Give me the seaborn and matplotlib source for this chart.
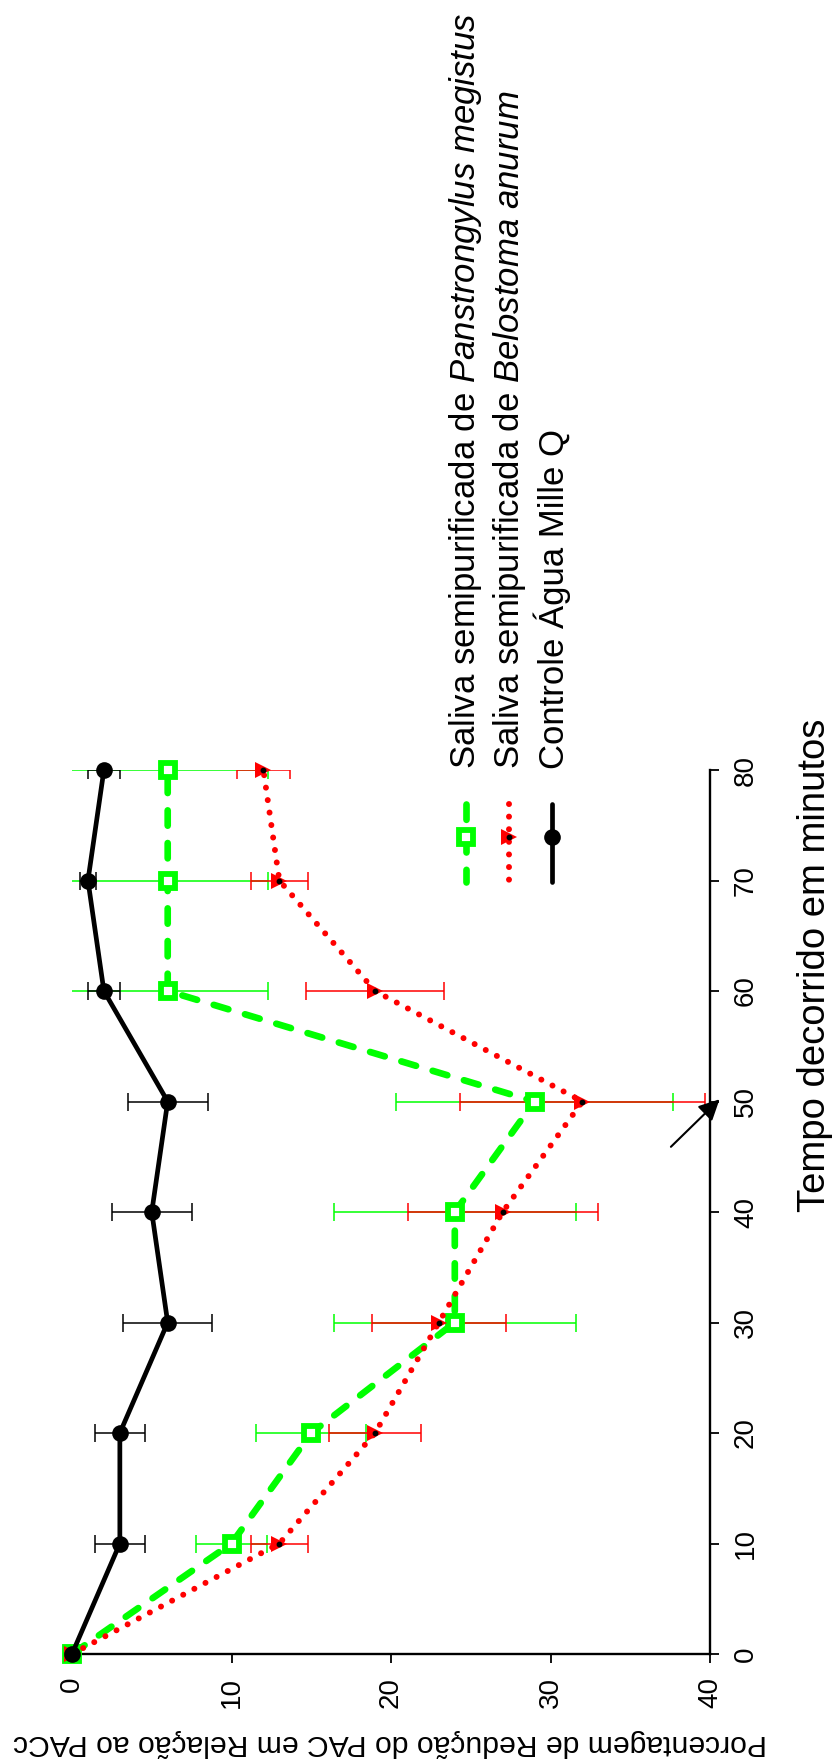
import seaborn as sns
from matplotlib import pyplot as plt
from matplotlib.lines import Line2D

#--------------------------Data----------------------
time_min = [0, 10, 20, 30, 40, 50, 60, 70, 80]

# Saliva semipurificada de Panstrongylus megistus
pm_mean = [0, 10, 15, 24, 24, 29, 6, 6, 6]
pm_err = [0, 2.2, 3.45, 7.6, 7.6, 8.7, 6.3, 6.3, 6.3]

# Saliva semipurificada de Belostoma anurum
ba_mean = [0, 13, 19, 23, 27, 32, 19, 13, 12]
ba_err = [0, 1.8, 2.9, 4.2, 5.95, 7.7, 4.35, 1.8, 1.65]

# Controle Agua Mille Q
ctrl_mean = [0, 3, 3, 6, 5, 6, 2, 1, 2]
ctrl_err = [0, 1.57, 1.57, 2.8, 2.5, 2.5, 1.0, 0.5, 1.0]

legend_labels = [r'Saliva semipurificada de $\mathit{Panstrongylus\ megistus}$',
                 r'Saliva semipurificada de $\mathit{Belostoma\ anurum}$',
                 'Controle Água Mille Q']
pct_ticks = [0, 10, 20, 30, 40]
time_ticks = [0, 10, 20, 30, 40, 50, 60, 70, 80]
pct_label = 'Porcentagem de Redução do PAC em Relação ao PACc'
time_label = 'Tempo decorrido em minutos'

# arrow pointing at the 50 min mark
arrow_tip = (40.6, 50.2)
arrow_tail = (37.55, 45.9)

#--------------------------Style----------------------------------------------
sns.set_style('ticks', {'axes.edgecolor': 'black', 'xtick.color': 'black',
                        'ytick.color': 'black', 'text.color': 'black',
                        'axes.labelcolor': 'black'})
plt.rcParams['font.family'] = ['Liberation Sans', 'DejaVu Sans']
plt.rcParams['mathtext.fontset'] = 'custom'
plt.rcParams['mathtext.rm'] = 'Liberation Sans'
plt.rcParams['mathtext.it'] = 'Liberation Sans:italic'

series = [
    (pm_mean, pm_err, dict(color='#00ff00', linestyle=(0, (2.3, 2.6)), lw=4.8,
                           dash_capstyle='round', marker='s', ms=9.5,
                           mfc='white', mec='#00ff00', mew=4.2)),
    (ba_mean, ba_err, dict(color='#ff0000', linestyle=(0, (0.01, 2.1)), lw=4.3,
                           dash_capstyle='round', marker='>', ms=12,
                           mfc='#ff0000', mec='#ff0000', mew=0)),
    (ctrl_mean, ctrl_err, dict(color='black', linestyle='-', lw=3.4,
                               marker='o', ms=12, mfc='black', mec='black', mew=0)),
]

#--------------------------Plot------------------------------------------------
fig = plt.figure(figsize=(8.34, 17.64), dpi=100)
ax = fig.add_axes([72 / 834, 110 / 1764, 638 / 834, 884 / 1764])

for mean, err, kw in series:
    ax.errorbar(mean, time_min, xerr=err, fmt='none', ecolor=kw['color'],
                elinewidth=1.1, capsize=6.8, capthick=1.1, zorder=2)
for mean, err, kw in series:
    sns.lineplot(x=mean, y=time_min, orient='y', sort=False, errorbar=None,
                 ax=ax, clip_on=False, zorder=3, **kw)
# small black dot in the middle of the red triangles
ax.plot(ba_mean, time_min, 'o', color='black', ms=3.2, ls='none',
        zorder=4, clip_on=False)

ax.annotate('', xy=arrow_tip, xytext=arrow_tail, annotation_clip=False,
            arrowprops=dict(arrowstyle='-|>,head_length=0.9,head_width=0.45',
                            color='black', lw=1.5, shrinkA=0, shrinkB=0,
                            mutation_scale=14), zorder=5)

ax.set_xlim(0, 40)
ax.set_ylim(0, 80)
ax.set_xticks(pct_ticks)
ax.set_yticks(time_ticks)
ax.yaxis.tick_right()
for side in ['left', 'top']:
    ax.spines[side].set_visible(False)
for side in ['right', 'bottom']:
    ax.spines[side].set_linewidth(1.7)
ax.tick_params(axis='both', direction='out', length=6.5, width=1.3,
               labelsize=20, pad=10)
ax.tick_params(axis='x', labelrotation=90)
ax.tick_params(axis='y', labelrotation=90)
for t in ax.get_yticklabels():
    t.set_va('center')
ax.set_xlabel('')
ax.set_ylabel('')

fig.text(390 / 834, 1 - 1743 / 1764, pct_label, rotation=180,
         ha='center', va='center', fontsize=21.7)
fig.text(815 / 834, 1 - 965 / 1764, time_label, rotation=90,
         ha='center', va='center', fontsize=27.5)

# manual rotated legend
leg_x = [466 / 834, 509 / 834, 552 / 834]
for (mean, err, kw), lab, lx in zip(series, legend_labels, leg_x):
    line_kw = {k: v for k, v in kw.items()
               if k not in ('marker', 'ms', 'mfc', 'mec', 'mew')}
    fig.add_artist(Line2D([lx, lx], [1 - 804 / 1764, 1 - 882 / 1764],
                          transform=fig.transFigure, **line_kw))
    fig.add_artist(Line2D([lx], [1 - 837 / 1764], transform=fig.transFigure,
                          ls='none', marker=kw['marker'], ms=kw['ms'],
                          mfc=kw['mfc'], mec=kw['mec'], mew=kw['mew']))
    fig.text(lx, 1 - 769 / 1764, lab, rotation=90, rotation_mode='anchor',
             ha='left', va='center', fontsize=25)
fig.add_artist(Line2D([leg_x[1]], [1 - 837 / 1764], transform=fig.transFigure,
                      ls='none', marker='o', ms=3.2, color='black'))

fig.savefig('out.png', dpi=100)
